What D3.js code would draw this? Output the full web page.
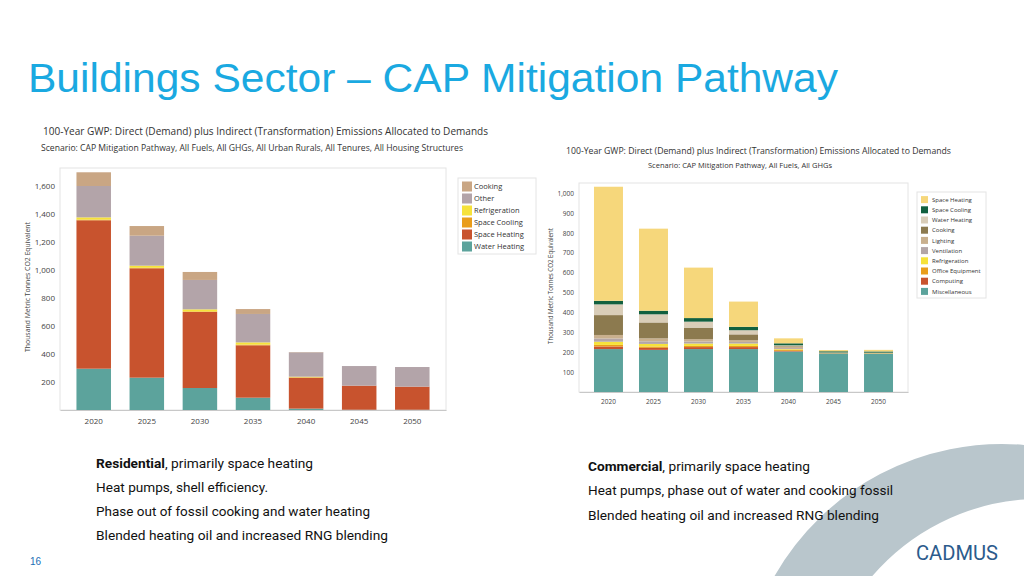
<!DOCTYPE html>
<html><head><meta charset="utf-8">
<script src="https://cdn.jsdelivr.net/npm/d3@7"></script>
<style>
html,body{margin:0;padding:0;background:#fff;}
svg{display:block;}
</style></head>
<body>
<svg id="c" width="1024" height="576"></svg>
<script>
// ---------- DATA ----------
const years = ["2020","2025","2030","2035","2040","2045","2050"];

// Residential (thousand metric tonnes CO2e)
const resCategories = ["Water Heating","Space Heating","Space Cooling","Refrigeration","Other","Cooking"];
const resWaterHeating  = [295, 231, 157,  88,  10,   2,   2];
const resSpaceHeating  = [1060,781, 543, 374, 221, 172, 165];
const resSpaceCooling  = [5,     4,   4,   5,   2,   0,   0];
const resRefrigeration = [16,   15,  15,  16,   5,   0,   0];
const resOther         = [224, 214, 210, 203, 174, 140, 140];
const resCooking       = [98,   69,  57,  35,   2,   0,   0];
const resTicks = [200,400,600,800,1000,1200,1400,1600];

// Commercial (thousand metric tonnes CO2e)
const comCategories = ["Miscellaneous","Computing","Office Equipment","Refrigeration","Ventilation","Lighting","Cooking","Water Heating","Space Cooling","Space Heating"];
const comMiscellaneous   = [216, 212, 216, 216, 204, 194, 193];
const comComputing       = [13,   10,  10,  10,   3,   1,   1];
const comOfficeEquipment = [8,     7,   6,   6,   6,   1,   1];
const comRefrigeration   = [16,   13,  12,  12,   3,   1,   1];
const comVentilation     = [16,   13,  10,   8,   5,   1,   1];
const comLighting        = [18,   15,  12,   9,   8,   1,   1];
const comCooking         = [100,  80,  58,  29,   3,   0,   0];
const comWaterHeating    = [54,   41,  30,  21,   3,   0,   0];
const comSpaceCooling    = [18,   18,  18,  17,  10,   6,   6];
const comSpaceHeating    = [574, 413, 254, 127,  25,   6,   8];
const comTicks = [100,200,300,400,500,600,700,800,900,1000];

const resColors = {"Cooking":"#c9a684","Other":"#b3a4a9","Refrigeration":"#f6e23a","Space Cooling":"#e99d1b","Space Heating":"#c8532e","Water Heating":"#5ca39c"};
const comColors = {"Space Heating":"#f6d77b","Space Cooling":"#11603f","Water Heating":"#d9cdb8","Cooking":"#8c7a4f","Lighting":"#c9b08e","Ventilation":"#b3a6a8","Refrigeration":"#f6e23a","Office Equipment":"#e99d1b","Computing":"#c8532e","Miscellaneous":"#5ca39c"};

const resSeries = {"Water Heating":resWaterHeating,"Space Heating":resSpaceHeating,"Space Cooling":resSpaceCooling,"Refrigeration":resRefrigeration,"Other":resOther,"Cooking":resCooking};
const comSeries = {"Miscellaneous":comMiscellaneous,"Computing":comComputing,"Office Equipment":comOfficeEquipment,"Refrigeration":comRefrigeration,"Ventilation":comVentilation,"Lighting":comLighting,"Cooking":comCooking,"Water Heating":comWaterHeating,"Space Cooling":comSpaceCooling,"Space Heating":comSpaceHeating};

// ---------- DRAW ----------
const svg = d3.select("#c");
const FONT = "'Open Sans', 'Noto Sans', sans-serif";

// decorative arc
const arcPath = (() => {
  // outer circle centre (1002,706) r 262 ; inner circle centre (1040,720) r 221
  const p = d3.path();
  p.moveTo(774.5, 576);
  p.arc(1002, 706, 262, Math.atan2(576-706, 774.5-1002), Math.atan2(445-706, 1024-1002) , false);
  p.lineTo(1024, 500);
  p.arc(1040, 720, 221, Math.atan2(500-720, 1024-1040), Math.atan2(576-720, 872-1040), true);
  p.closePath();
  return p.toString();
})();
svg.append("path").attr("d", arcPath).attr("fill", "#b9c6cc");

// main title
svg.append("text").attr("x", 28).attr("y", 92)
  .attr("font-family", "'Liberation Sans', Arial, sans-serif").attr("font-size", 40)
  .attr("fill", "#1aa9e1").attr("textLength", 810).attr("lengthAdjust", "spacingAndGlyphs")
  .text("Buildings Sector – CAP Mitigation Pathway");

function chart(opt) {
  const g = svg.append("g");
  // titles
  g.append("text").attr("x", opt.t1x).attr("y", opt.t1y).attr("font-family", FONT)
    .attr("font-size", opt.t1s).attr("fill", "#333").attr("textLength", opt.t1w).attr("lengthAdjust","spacingAndGlyphs")
    .text("100-Year GWP: Direct (Demand) plus Indirect (Transformation) Emissions Allocated to Demands");
  g.append("text").attr("x", opt.t2x).attr("y", opt.t2y).attr("font-family", FONT)
    .attr("font-size", opt.t2s).attr("fill", "#333").attr("textLength", opt.t2w).attr("lengthAdjust","spacingAndGlyphs")
    .text(opt.subtitle);

  const x = d3.scaleBand().domain(years).range([opt.x0, opt.x1]).paddingInner(opt.pi).paddingOuter(opt.po);
  const y = d3.scaleLinear().domain([0, opt.ymax]).range([opt.y0, opt.y1]);

  // frame
  g.append("rect").attr("x", opt.x0).attr("y", opt.y1).attr("width", opt.x1-opt.x0).attr("height", opt.y0-opt.y1)
    .attr("fill", "none").attr("stroke", "#e4e4e4").attr("stroke-width", 1);

  const rows = years.map((yr, i) => {
    const o = {year: yr};
    opt.cats.forEach(c => o[c] = opt.series[c][i]);
    return o;
  });
  const stacked = d3.stack().keys(opt.cats)(rows);
  g.append("g").selectAll("g").data(stacked).join("g")
    .attr("fill", d => opt.colors[d.key])
    .selectAll("rect").data(d => d).join("rect")
    .attr("x", d => x(d.data.year)).attr("width", x.bandwidth())
    .attr("y", d => y(d[1])).attr("height", d => Math.max(0, y(d[0]) - y(d[1])));

  // y axis
  const ya = g.append("g").attr("transform", `translate(${opt.x0},0)`)
    .call(d3.axisLeft(y).tickValues(opt.ticks).tickSize(0).tickPadding(opt.tp).tickFormat(d3.format(",")));
  ya.select(".domain").remove();
  ya.selectAll("text").attr("font-family", FONT).attr("font-size", opt.tickSize).attr("fill", "#444");

  // x axis
  const xa = g.append("g").attr("transform", `translate(0,${opt.y0})`)
    .call(d3.axisBottom(x).tickSize(0).tickPadding(opt.xtp));
  xa.select(".domain").attr("stroke", "#c8c8c8");
  xa.selectAll("text").attr("font-family", FONT).attr("font-size", opt.tickSize).attr("fill", "#444");

  // y title
  g.append("text").attr("transform", `translate(${opt.ytx},${opt.yty}) rotate(-90)`)
    .attr("text-anchor", "middle").attr("font-family", FONT).attr("font-size", opt.yts).attr("fill", "#444")
    .attr("textLength", opt.ytw).attr("lengthAdjust","spacingAndGlyphs")
    .text("Thousand Metric Tonnes CO2 Equivalent");

  // legend
  const L = opt.legend;
  g.append("rect").attr("x", L.x).attr("y", L.y).attr("width", L.w).attr("height", L.h)
    .attr("fill", "#fff").attr("stroke", "#e4e4e4");
  const items = opt.cats.slice().reverse();
  const li = g.append("g").selectAll("g").data(items).join("g")
    .attr("transform", (d, i) => `translate(${L.x + L.sx},${L.y + L.sy + i * L.step})`);
  li.append("rect").attr("x", 0).attr("y", -L.sw/2).attr("width", L.sw).attr("height", L.sw).attr("fill", d => opt.colors[d]);
  li.append("text").attr("x", L.tx).attr("y", 0).attr("dy", "0.35em").attr("font-family", FONT)
    .attr("font-size", L.fs).attr("fill", "#333").text(d => d);
}

chart({
  cats: resCategories, series: resSeries, colors: resColors, ticks: resTicks,
  x0: 60, x1: 446, y0: 410, y1: 168, ymax: (410-168)/0.14, pi: 0.35, po: 0.31,
  tp: 5, xtp: 8, tickSize: 8,
  t1x: 43, t1y: 135, t1s: 10.5, t1w: 445,
  t2x: 41, t2y: 151, t2s: 8.5, t2w: 422,
  subtitle: "Scenario: CAP Mitigation Pathway, All Fuels, All GHGs, All Urban Rurals, All Tenures, All Housing Structures",
  ytx: 30, yty: 287, yts: 7.5, ytw: 130,
  legend: {x: 458, y: 178, w: 78, h: 76, sx: 4, sy: 8.5, step: 12, sw: 10, tx: 12, fs: 7.5}
});

chart({
  cats: comCategories, series: comSeries, colors: comColors, ticks: comTicks,
  x0: 579, x1: 908, y0: 392, y1: 183, ymax: (392.2-183)/0.1989, pi: 0.356, po: 0.333,
  tp: 5, xtp: 7, tickSize: 6.5,
  t1x: 566, t1y: 154, t1s: 9, t1w: 385,
  t2x: 648, t2y: 168, t2s: 7.5, t2w: 184,
  subtitle: "Scenario: CAP Mitigation Pathway, All Fuels, All GHGs",
  ytx: 553, yty: 286, yts: 6.2, ytw: 116,
  legend: {x: 917, y: 192, w: 69, h: 106, sx: 4, sy: 7.6, step: 10.2, sw: 7, tx: 11, fs: 6}
});

// bottom text
const NFONT = "'Liberation Sans Narrow', 'Roboto', 'Liberation Sans', sans-serif";
function line(xp, yp, bold, rest, w) {
  const t = svg.append("text").attr("x", xp).attr("y", yp).attr("font-family", NFONT)
    .attr("font-size", 13).attr("fill", "#111").attr("textLength", w).attr("lengthAdjust", "spacingAndGlyphs");
  if (bold) t.append("tspan").attr("font-weight", "bold").text(bold);
  t.append("tspan").text(rest);
}
line(96, 468, "Residential", ", primarily space heating", 217);
line(96, 492, null, "Heat pumps, shell efficiency.", 172);
line(96, 516, null, "Phase out of fossil cooking and water heating", 274);
line(96, 540, null, "Blended heating oil and increased RNG blending", 292);
line(588, 471, "Commercial", ", primarily space heating", 222);
line(588, 495, null, "Heat pumps, phase out of water and cooking fossil", 305);
line(588, 520, null, "Blended heating oil and increased RNG blending", 291);

svg.append("text").attr("x", 30).attr("y", 565).attr("font-family", "'Liberation Sans', Arial, sans-serif")
  .attr("font-size", 10).attr("fill", "#1a6fb5").text("16");

svg.append("text").attr("x", 916).attr("y", 560).attr("font-family", NFONT)
  .attr("font-size", 21).attr("fill", "#2b5b8c").attr("textLength", 82).attr("lengthAdjust", "spacingAndGlyphs")
  .text("CADMUS");
</script>
</body></html>
